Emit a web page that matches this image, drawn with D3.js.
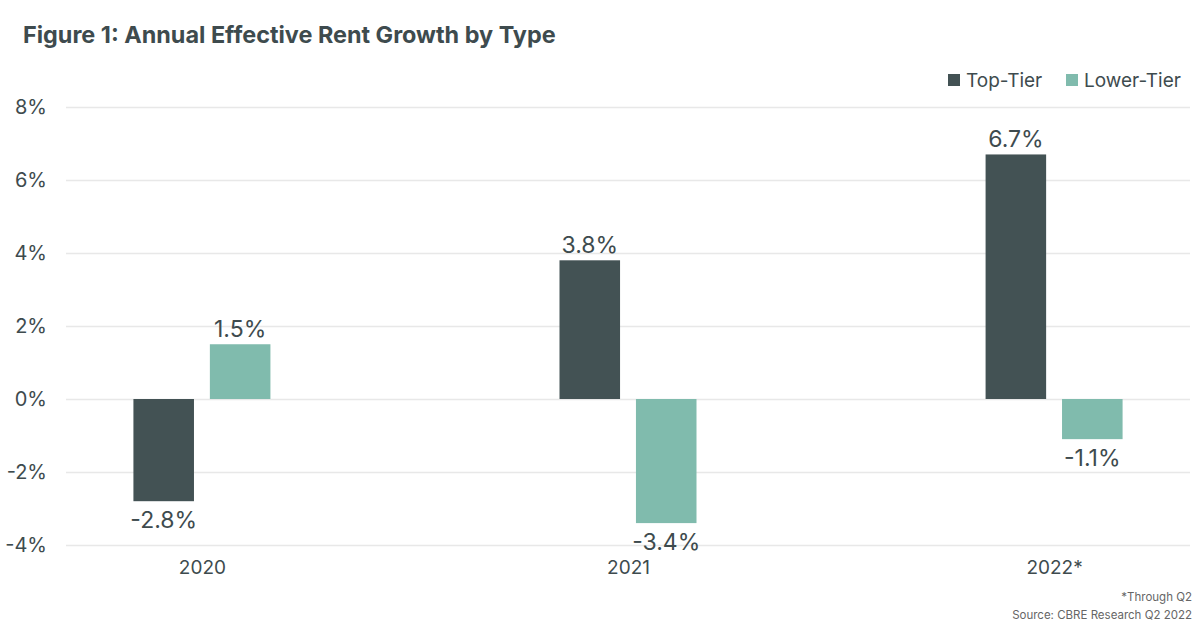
<!DOCTYPE html>
<html>
<head>
<meta charset="utf-8">
<script src="https://cdn.jsdelivr.net/npm/d3@7"></script>
<style>
  body { margin: 0; background: #fff; }
  svg { display: block; font-family: Inter, Roboto, "Noto Sans", sans-serif; }
</style>
</head>
<body>
<svg width="1200" height="627"></svg>
<script>
// chart data
let years = ["2020", "2021", "2022*"]
let seriesNames = ["Top-Tier", "Lower-Tier"]
let topTier = [-2.8, 3.8, 6.7]
let lowerTier = [1.5, -3.4, -1.1]
let yTicks = [-4, -2, 0, 2, 4, 6, 8]

let colors = ["#435254", "#80bbad"]
let textColor = "#3e4b4e"

let plotLeft = 66
let plotRight = 1190
let plotTop = 107
let plotBottom = 545

let svg = d3.select("svg")

// scales
let xScale = d3.scalePoint()
               .domain(years)
               .range([plotLeft, plotRight])
               .padding(0.319)

let innerScale = d3.scaleBand()
                   .domain(seriesNames)
                   .range([-68.5, 68.5])
                   .paddingInner(0.208)

let yScale = d3.scaleLinear()
               .domain([-4, 8])
               .range([plotBottom, plotTop])

// title
svg.append("text")
   .attr("x", 23)
   .attr("y", 43)
   .attr("fill", textColor)
   .attr("font-size", 23.4)
   .attr("font-weight", 700)
   .text("Figure 1: Annual Effective Rent Growth by Type")

// gridlines + y labels
let yAxis = d3.axisLeft(yScale)
              .tickValues(yTicks)
              .tickSize(-(plotRight - plotLeft))
              .tickPadding(19)
              .tickFormat((d) => d + "%")

let yG = svg.append("g")
            .attr("transform", "translate(" + plotLeft + ", 0)")
            .call(yAxis)
yG.select(".domain").remove()
yG.selectAll("line").attr("stroke", "#e8e8e8").attr("stroke-width", 1.5)
yG.selectAll("text")
  .attr("fill", textColor)
  .attr("font-size", 20)
  .attr("font-family", "Inter, Roboto, sans-serif")

// bars
let rows = years.map((y, i) => {
  return { year: y, values: [topTier[i], lowerTier[i]] }
})

let groups = svg.selectAll(".year")
                .data(rows)
                .enter()
                .append("g")
                .attr("transform", (d) => "translate(" + xScale(d.year) + ", 0)")

groups.selectAll("rect")
      .data((d) => d.values.map((v, j) => ({ name: seriesNames[j], value: v, idx: j })))
      .enter()
      .append("rect")
      .attr("x", (d) => innerScale(d.name))
      .attr("width", innerScale.bandwidth())
      .attr("y", (d) => yScale(Math.max(0, d.value)))
      .attr("height", (d) => Math.abs(yScale(d.value) - yScale(0)))
      .attr("fill", (d) => colors[d.idx])

groups.selectAll(".lbl")
      .data((d) => d.values.map((v, j) => ({ name: seriesNames[j], value: v })))
      .enter()
      .append("text")
      .attr("x", (d) => innerScale(d.name) + innerScale.bandwidth() / 2)
      .attr("y", (d) => d.value >= 0 ? yScale(d.value) - 7 : yScale(d.value) + 27)
      .attr("text-anchor", "middle")
      .attr("fill", textColor)
      .attr("font-size", 23)
      .text((d) => d.value.toFixed(1) + "%")

// x axis labels
let xAxis = d3.axisBottom(xScale).tickSize(0).tickPadding(16)
let xG = svg.append("g")
            .attr("transform", "translate(0, " + plotBottom + ")")
            .call(xAxis)
xG.select(".domain").remove()
xG.selectAll("text")
  .attr("fill", textColor)
  .attr("font-size", 19)
  .attr("font-family", "Inter, Roboto, sans-serif")

// legend
let legendX = [948, 1066]
seriesNames.forEach((name, i) => {
  svg.append("rect")
     .attr("x", legendX[i])
     .attr("y", 74)
     .attr("width", 12)
     .attr("height", 12)
     .attr("fill", colors[i])
  svg.append("text")
     .attr("x", legendX[i] + 18)
     .attr("y", 87)
     .attr("fill", textColor)
     .attr("font-size", 19)
     .text(name)
})

// footnotes
svg.append("text")
   .attr("x", 1192)
   .attr("y", 601)
   .attr("text-anchor", "end")
   .attr("fill", "#666")
   .attr("font-size", 11.5)
   .text("*Through Q2")
svg.append("text")
   .attr("x", 1192)
   .attr("y", 619)
   .attr("text-anchor", "end")
   .attr("fill", "#666")
   .attr("font-size", 11.5)
   .text("Source: CBRE Research Q2 2022")
</script>
</body>
</html>
